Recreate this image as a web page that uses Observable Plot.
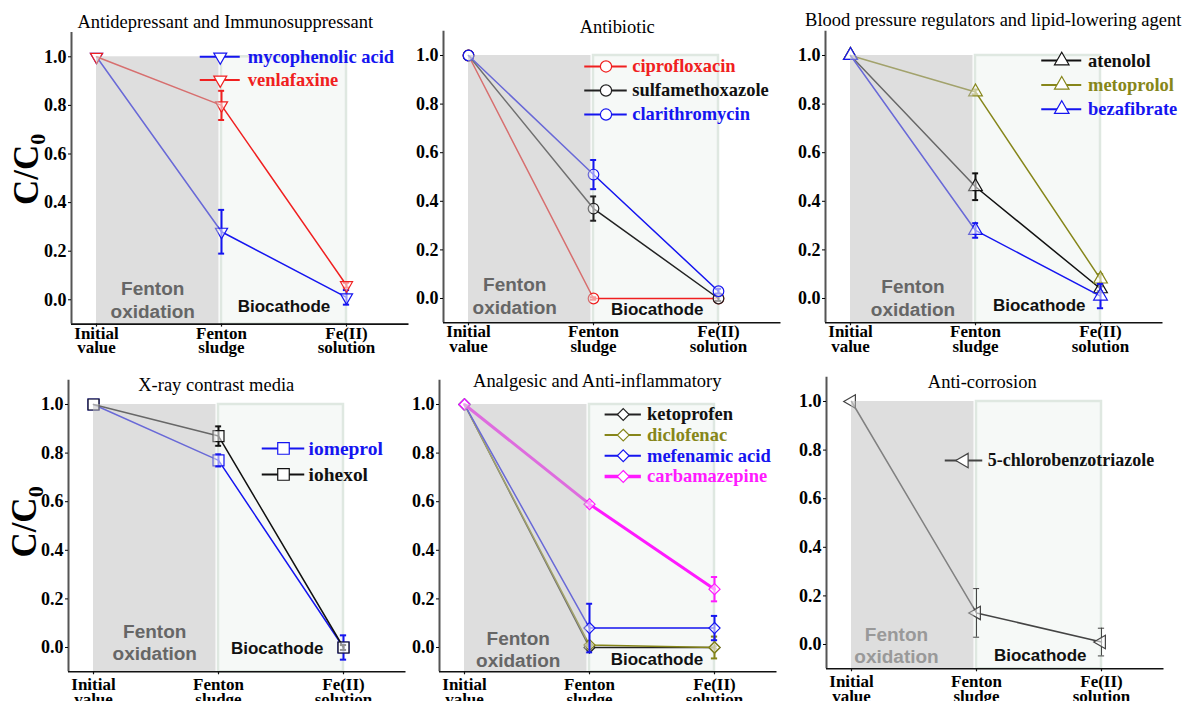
<!DOCTYPE html>
<html><head><meta charset="utf-8">
<script src="https://cdn.jsdelivr.net/npm/d3@7"></script>
<script src="https://cdn.jsdelivr.net/npm/@observablehq/plot@0.6"></script>
<style>
html,body{margin:0;padding:0;background:#fff;overflow:hidden;width:1184px;height:701px;}
#wrap{position:relative;width:1184px;height:701px;overflow:hidden;}
.panel{position:absolute;}
.panel svg{overflow:visible;}
</style></head><body><div id="wrap"></div>
<script>
// ---------------- data ----------------
const panelTitles = [
  "Antidepressant and Immunosuppressant",
  "Antibiotic",
  "Blood pressure regulators and lipid-lowering agent",
  "X-ray contrast media",
  "Analgesic and Anti-inflammatory",
  "Anti-corrosion"
];
const stageLabels = ["Initial\nvalue", "Fenton\nsludge", "Fe(II)\nsolution"];
const stages = [0, 1, 2];
const yTicks = [0, 0.2, 0.4, 0.6, 0.8, 1.0];
const zoneLabels = ["Fenton\noxidation", "Biocathode"];
const yLabel = "C/C0";
const compounds = [
  "mycophenolic acid", "venlafaxine",
  "ciprofloxacin", "sulfamethoxazole", "clarithromycin",
  "atenolol", "metoprolol", "bezafibrate",
  "iomeprol", "iohexol",
  "ketoprofen", "diclofenac", "mefenamic acid", "carbamazepine",
  "5-chlorobenzotriazole"
];
const compoundPanel = [0, 0, 1, 1, 1, 2, 2, 2, 3, 3, 4, 4, 4, 4, 5];
const meanValues = [
  [1.00, 0.28, 0.01],
  [1.00, 0.80, 0.06],
  [1.00, 0.00, 0.00],
  [1.00, 0.37, 0.00],
  [1.00, 0.51, 0.03],
  [1.00, 0.46, 0.04],
  [1.00, 0.85, 0.08],
  [1.00, 0.28, 0.01],
  [1.00, 0.77, 0.00],
  [1.00, 0.87, 0.00],
  [1.00, 0.00, 0.00],
  [1.00, 0.01, 0.00],
  [1.00, 0.08, 0.08],
  [1.00, 0.59, 0.24],
  [1.00, 0.13, 0.01]
];
const errorValues = [
  [0, 0.09, 0.03],
  [0, 0.06, 0.01],
  [0, 0.005, 0],
  [0, 0.05, 0.01],
  [0, 0.06, 0.01],
  [0, 0.055, 0.01],
  [0, 0.01, 0.02],
  [0, 0.03, 0.05],
  [0, 0.025, 0.05],
  [0, 0.04, 0.01],
  [0, 0.005, 0.005],
  [0, 0.005, 0.045],
  [0, 0.10, 0.05],
  [0, 0.01, 0.05],
  [0, 0.10, 0.057]
];

// ---------------- styles ----------------
const serif = "'Liberation Serif','Times New Roman',serif";
const sans = "'Liberation Sans',Arial,sans-serif";
const compoundColor = ["#1515f0","#f02020","#f02020","#222222","#1515f0","#111111","#86861a","#1515f0","#1515f0","#111111","#222222","#86861a","#1515f0","#ff1aff","#444444"];
const legendTextColor = ["#1515f0","#f02020","#f02020","#111111","#1515f0","#111111","#86861a","#1515f0","#1515f0","#111111","#111111","#86861a","#1515f0","#ff1aff","#111111"];
const compoundLineWidth = [1.5,1.5,1.5,1.5,1.5,1.5,1.5,1.5,1.5,1.5,1.5,1.5,1.5,3,1.5];
const panelSymbol = ["triangle","circle","triangle","square","diamond2","triangle"];
const panelRotate = [180, 0, 0, 0, 0, -90];
const panelR = [4.5, 5.3, 5.1, 6.2, 5, 5];
const xDomain = [-0.2, 2.5];
const yDomain = [-0.1, 1.1];
// layout (pixel placement of each panel)
const layout = [
  {left: 0,   top: 0,   ml: 71, mt: 32,   titleDx: -15, titleDy: -4, ylab: true, ylabDx: -45, ylabDy: -9, xlabDy: 29},
  {left: 383, top: 0,   ml: 60, mt: 30.7, titleDx: 5,   titleDy: 2,  xlabDy: 29},
  {left: 765, top: 0,   ml: 60, mt: 30.7, titleDx: -1,  titleDy: -5, xlabDy: 29},
  {left: 0,   top: 350, ml: 68, mt: 29.7, titleDx: -21, titleDy: 11, ylab: true, ylabDx: -44, ylabDy: -4, xlabDy: 33},
  {left: 379, top: 350, ml: 60, mt: 29.7, titleDx: -11, titleDy: 7,  xlabDy: 33},
  {left: 766, top: 350, ml: 60, mt: 26.7, titleDx: -13, titleDy: 11, xlabDy: 33}
];
const zonePos = [
  {fx: 0.45, fy: -0.074, bx: 1.50, by: -0.050, fc: "#666"},
  {fx: 0.37, fy: -0.062, bx: 1.51, by: -0.066, fc: "#666"},
  {fx: 0.50, fy: -0.070, bx: 1.51, by: -0.050, fc: "#666"},
  {fx: 0.49, fy: -0.053, bx: 1.47, by: -0.025, fc: "#666"},
  {fx: 0.43, fy: -0.082, bx: 1.54, by: -0.074, fc: "#666"},
  {fx: 0.36, fy: -0.078, bx: 1.51, by: -0.066, fc: "#999"}
];
const legendPos = [
  {lx: 0.99, hw: 0.16, tx: 1.21, y0: 1.000, step: 0.095, fs: 18.5},
  {lx: 1.10, hw: 0.17, tx: 1.31, y0: 0.955, step: 0.099, fs: 18.5},
  {lx: 1.69, hw: 0.16, tx: 1.90, y0: 0.979, step: 0.100, fs: 18.5},
  {lx: 1.52, hw: 0.17, tx: 1.72, y0: 0.819, step: 0.107, fs: 19.5},
  {lx: 1.27, hw: 0.145, tx: 1.46, y0: 0.959, step: 0.085, fs: 18.5},
  {lx: 0.90, hw: 0.15, tx: 1.09, y0: 0.757, step: 0.1, fs: 18}
];
const pxPerX = 125, pxPerY = 243;

// tidy rows
const rows = [];
compounds.forEach((c, ci) => stages.forEach(s => rows.push({
  ci, name: c, panel: compoundPanel[ci], stage: s, mean: meanValues[ci][s], err: errorValues[ci][s]
})));

const wrap = document.getElementById("wrap");

function makePanel(p) {
  const L = layout[p], Z = zonePos[p], G = legendPos[p];
  const plotW = (xDomain[1] - xDomain[0]) * pxPerX;
  const plotH = (yDomain[1] - yDomain[0]) * pxPerY;
  const mr = 20, mb = 45;
  const comps = compounds.map((c, i) => i).filter(i => compoundPanel[i] === p);
  const sym = panelSymbol[p], rot = panelRotate[p], r = panelR[p];
  const marks = [];
  // biocathode zone (light)
  marks.push(Plot.rect([0], {x1: () => 1.0, x2: () => 2.0, y1: () => yDomain[0], y2: () => 1.0,
    fill: "#f6f9f7", stroke: "#dfe8e1", strokeWidth: 2.5}));
  // data series
  comps.forEach(ci => {
    const R = rows.filter(d => d.ci === ci);
    const E = R.filter(d => d.err > 0);
    const col = compoundColor[ci];
    marks.push(Plot.line(R, {x: "stage", y: "mean", stroke: col, strokeWidth: compoundLineWidth[ci]}));
    marks.push(Plot.ruleX(E, {x: "stage", y1: d => d.mean - d.err, y2: d => d.mean + d.err, stroke: col, strokeWidth: p === 5 ? 1 : 2}));
    const caps = E.flatMap(d => [{...d, yy: d.mean - d.err}, {...d, yy: d.mean + d.err}]);
    marks.push(Plot.ruleY(caps, {y: "yy", x1: d => d.stage - 0.025, x2: d => d.stage + 0.025, stroke: col, strokeWidth: p === 5 ? 1 : 2}));
    marks.push(Plot.dot(R, {x: "stage", y: "mean", symbol: sym, r, rotate: rot, stroke: col, strokeWidth: 1.2, fill: "white", fillOpacity: 0.55}));
  });
  // fenton oxidation zone (grey overlay)
  marks.push(Plot.rect([0], {x1: () => 0, x2: () => 0.98, y1: () => yDomain[0], y2: () => 1.0,
    fill: "#bdbdbd", fillOpacity: 0.5}));
  // zone labels
  marks.push(Plot.text([zoneLabels[0]], {x: () => Z.fx, y: () => Z.fy, text: d => d, lineAnchor: "bottom", lineHeight: 1.2,
    fontFamily: sans, fontWeight: "bold", fontSize: 19, fill: Z.fc}));
  marks.push(Plot.text([zoneLabels[1]], {x: () => Z.bx, y: () => Z.by, text: d => d, lineAnchor: "bottom",
    fontFamily: sans, fontWeight: "bold", fontSize: 17, fill: "#111"}));
  // axes
  marks.push(Plot.ruleX([xDomain[0]], {x: d => d, y1: () => yDomain[0], y2: () => yDomain[1], stroke: "#555", strokeWidth: 2}));
  marks.push(Plot.ruleY([yDomain[0]], {y: d => d, x1: () => xDomain[0], x2: () => xDomain[1], stroke: "#111", strokeWidth: 1.6}));
  marks.push(Plot.axisY(yTicks, {anchor: "left", tickFormat: d3.format(".1f"), tickSize: 3, tickPadding: 2,
    fontFamily: serif, fontWeight: "bold", fontSize: 18, fill: "#000"}));
  marks.push(Plot.ruleX(stages, {x: d => d, y1: () => yDomain[0], y2: () => yDomain[0] - 3 / pxPerY, stroke: "#111", strokeWidth: 1.2}));
  marks.push(Plot.text(stages, {x: d => d, frameAnchor: "bottom", text: d => stageLabels[d], dy: L.xlabDy,
    textAnchor: "middle", lineAnchor: "bottom", lineHeight: 0.85, fontFamily: serif, fontWeight: "bold", fontSize: 17, fill: "#000"}));
  // legend
  const ly = (d, i) => G.y0 - i * G.step;
  marks.push(Plot.ruleY(comps, {y: ly, x1: () => G.lx - G.hw, x2: () => G.lx + G.hw, stroke: ci => compoundColor[ci], strokeWidth: ci => compoundLineWidth[ci] + 0.5}));
  marks.push(Plot.dot(comps, {x: () => G.lx, y: ly, symbol: sym, r: r + 0.3, rotate: rot, stroke: ci => compoundColor[ci], strokeWidth: 1.2, fill: "white"}));
  marks.push(Plot.text(comps, {x: () => G.tx, y: ly, text: ci => compounds[ci], textAnchor: "start", lineAnchor: "middle",
    fill: ci => legendTextColor[ci], fontFamily: serif, fontWeight: "bold", fontSize: G.fs}));
  // title
  marks.push(Plot.text([panelTitles[p]], {frameAnchor: "top", text: d => d, dx: L.titleDx, dy: L.titleDy,
    textAnchor: "middle", lineAnchor: "bottom", fontFamily: serif, fontSize: 18.5, fill: "#000"}));
  // y label
  if (L.ylab) {
    marks.push(Plot.text([yLabel], {frameAnchor: "left", text: d => d, rotate: -90, dx: L.ylabDx, dy: L.ylabDy,
      textAnchor: "middle", lineAnchor: "middle", fontFamily: serif, fontWeight: "bold", fontSize: 35, fill: "#000"}));
  }
  const chart = Plot.plot({
    width: L.ml + plotW + mr,
    height: L.mt + plotH + mb,
    marginLeft: L.ml, marginTop: L.mt, marginRight: mr, marginBottom: mb,
    x: {type: "linear", domain: xDomain, axis: null},
    y: {type: "linear", domain: yDomain, axis: null},
    color: {type: "identity"},
    style: {background: "transparent", overflow: "visible", maxWidth: "none", fontFamily: serif},
    marks
  });
  // subscript for C/C0
  d3.select(chart).selectAll("text").each(function () {
    if (this.textContent === yLabel) {
      const t = d3.select(this);
      t.text("");
      t.append("tspan").text("C/C");
      t.append("tspan").attr("font-size", "22px").attr("dy", "7").text("0");
    }
  });
  const div = document.createElement("div");
  div.className = "panel";
  div.style.left = L.left + "px";
  div.style.top = L.top + "px";
  div.appendChild(chart);
  wrap.appendChild(div);
}
for (let p = 0; p < 6; p++) makePanel(p);
</script>
</body></html>
